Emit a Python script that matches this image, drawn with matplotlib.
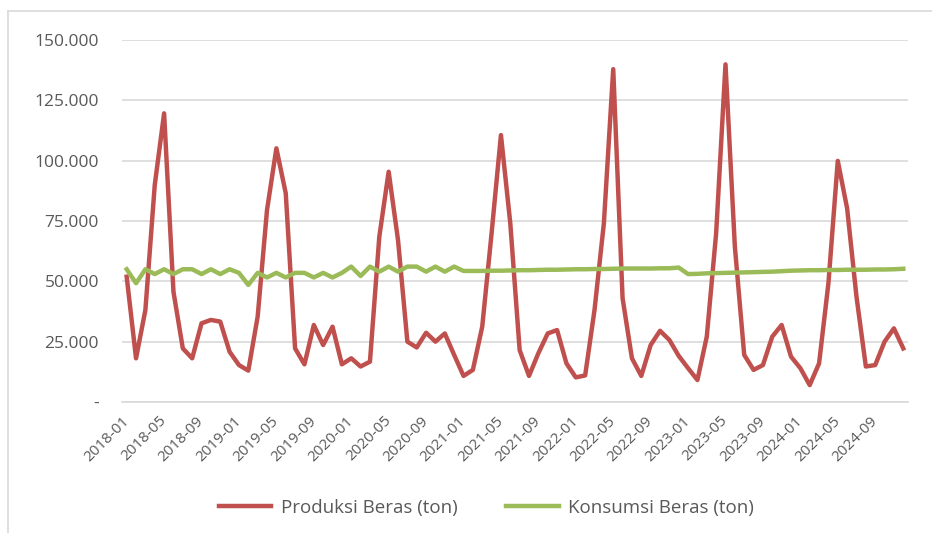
import matplotlib.pyplot as plt
import matplotlib.transforms as mtransforms
from matplotlib.lines import Line2D
import numpy as np

# Monthly data 2018-01 .. 2024-12
years = list(range(2018, 2025))
months = [f'{y}-{m:02d}' for y in years for m in range(1, 13)]

produksi = [
    51900, 18100, 38100, 89900, 119600, 45700, 22200, 18100, 32600, 34000, 33300, 20800,  # 2018
    15300, 13000, 35400, 79600, 105100, 86500, 22200, 15600, 31900, 23600, 31200, 15600,  # 2019
    18100, 14700, 16700, 68500, 95400, 67100, 25000, 22600, 28700, 25000, 28400, 19500,   # 2020
    10800, 13300, 31200, 69900, 110600, 74000, 21500, 10800, 20200, 28400, 29800, 16000,  # 2021
    10200, 11000, 38100, 74000, 137900, 43000, 18100, 10800, 23600, 29500, 25700, 19100,  # 2022
    14000, 9100, 27100, 69900, 139900, 64400, 19500, 13300, 15300, 27100, 31900, 18800,   # 2023
    14000, 7000, 16000, 49200, 99900, 80200, 43600, 14700, 15300, 25000, 30500, 22200,    # 2024
]
konsumsi = [
    55000, 49200, 55000, 53000, 55000, 53000, 55000, 55000, 53000, 55000, 53000, 55000,  # 2018
    53500, 48500, 53500, 51600, 53500, 51600, 53500, 53500, 51600, 53500, 51600, 53500,  # 2019
    56100, 52200, 56100, 54000, 56100, 54000, 56100, 56100, 54000, 56100, 54000, 56100,  # 2020
    54300, 54300, 54300, 54400, 54400, 54500, 54600, 54600, 54700, 54800, 54800, 54900,  # 2021
    55000, 55000, 55100, 55100, 55200, 55300, 55300, 55300, 55300, 55400, 55400, 55700,  # 2022
    53000, 53100, 53300, 53400, 53500, 53600, 53700, 53800, 53900, 54000, 54200, 54400,  # 2023
    54500, 54600, 54600, 54700, 54700, 54800, 54800, 54800, 54900, 54900, 55000, 55200,  # 2024
]

y_ticks = [0, 25000, 50000, 75000, 100000, 125000, 150000]
y_labels = ['-', '25.000', '50.000', '75.000', '100.000', '125.000', '150.000']

text_color = '#595959'
grid_color = '#D9D9D9'
plt.rcParams['font.family'] = ['Open Sans', 'DejaVu Sans']

fig = plt.figure(figsize=(9.32, 5.33), dpi=100)
ax = fig.add_axes([0.1309, 0.2458, 0.8433, 0.6792])

x = np.arange(len(months))
ax.plot(x, produksi, color='#C0504D', linewidth=3.2, solid_joinstyle='round',
        label='Produksi Beras (ton)')
ax.plot(x, konsumsi, color='#9BBB59', linewidth=3.2, solid_joinstyle='round',
        label='Konsumsi Beras (ton)')

ax.set_xlim(-0.5, len(months) - 0.5)
ax.set_ylim(0, 150000)

ax.set_yticks(y_ticks)
ax.set_yticklabels(y_labels)
ax.yaxis.grid(True, color=grid_color, linewidth=1.2)
ax.set_axisbelow(True)

tick_pos = x[::4]
ax.set_xticks(tick_pos)
ax.set_xticklabels([months[i] for i in tick_pos], rotation=45, ha='right',
                   va='center', rotation_mode='anchor')
offset = mtransforms.ScaledTranslation(0.04, 0.0, fig.dpi_scale_trans)
for lab in ax.get_xticklabels():
    lab.set_transform(lab.get_transform() + offset)

ax.tick_params(axis='both', length=0, colors=text_color)
ax.tick_params(axis='y', pad=16.5, labelsize=12.5)
ax.tick_params(axis='x', pad=12, labelsize=11)

for s in ['top', 'right', 'left']:
    ax.spines[s].set_visible(False)
ax.spines['bottom'].set_color(grid_color)
ax.spines['bottom'].set_linewidth(1.2)

leg = fig.legend(loc='center', bbox_to_anchor=(0.522, 0.047), ncol=2, frameon=False,
                 handlelength=2.8, columnspacing=2.6, handletextpad=0.5,
                 prop={'family': ['Open Sans'], 'size': 13.5})
for t in leg.get_texts():
    t.set_color(text_color)

# chart frame (top and left edges visible)
fig.add_artist(Line2D([8 / 932, 1.0], [1 - 11 / 533, 1 - 11 / 533], color=grid_color,
                      linewidth=1.2, transform=fig.transFigure))
fig.add_artist(Line2D([8 / 932, 8 / 932], [0.0, 1 - 11 / 533], color=grid_color,
                      linewidth=1.2, transform=fig.transFigure))

plt.savefig('out.png', dpi=100)
